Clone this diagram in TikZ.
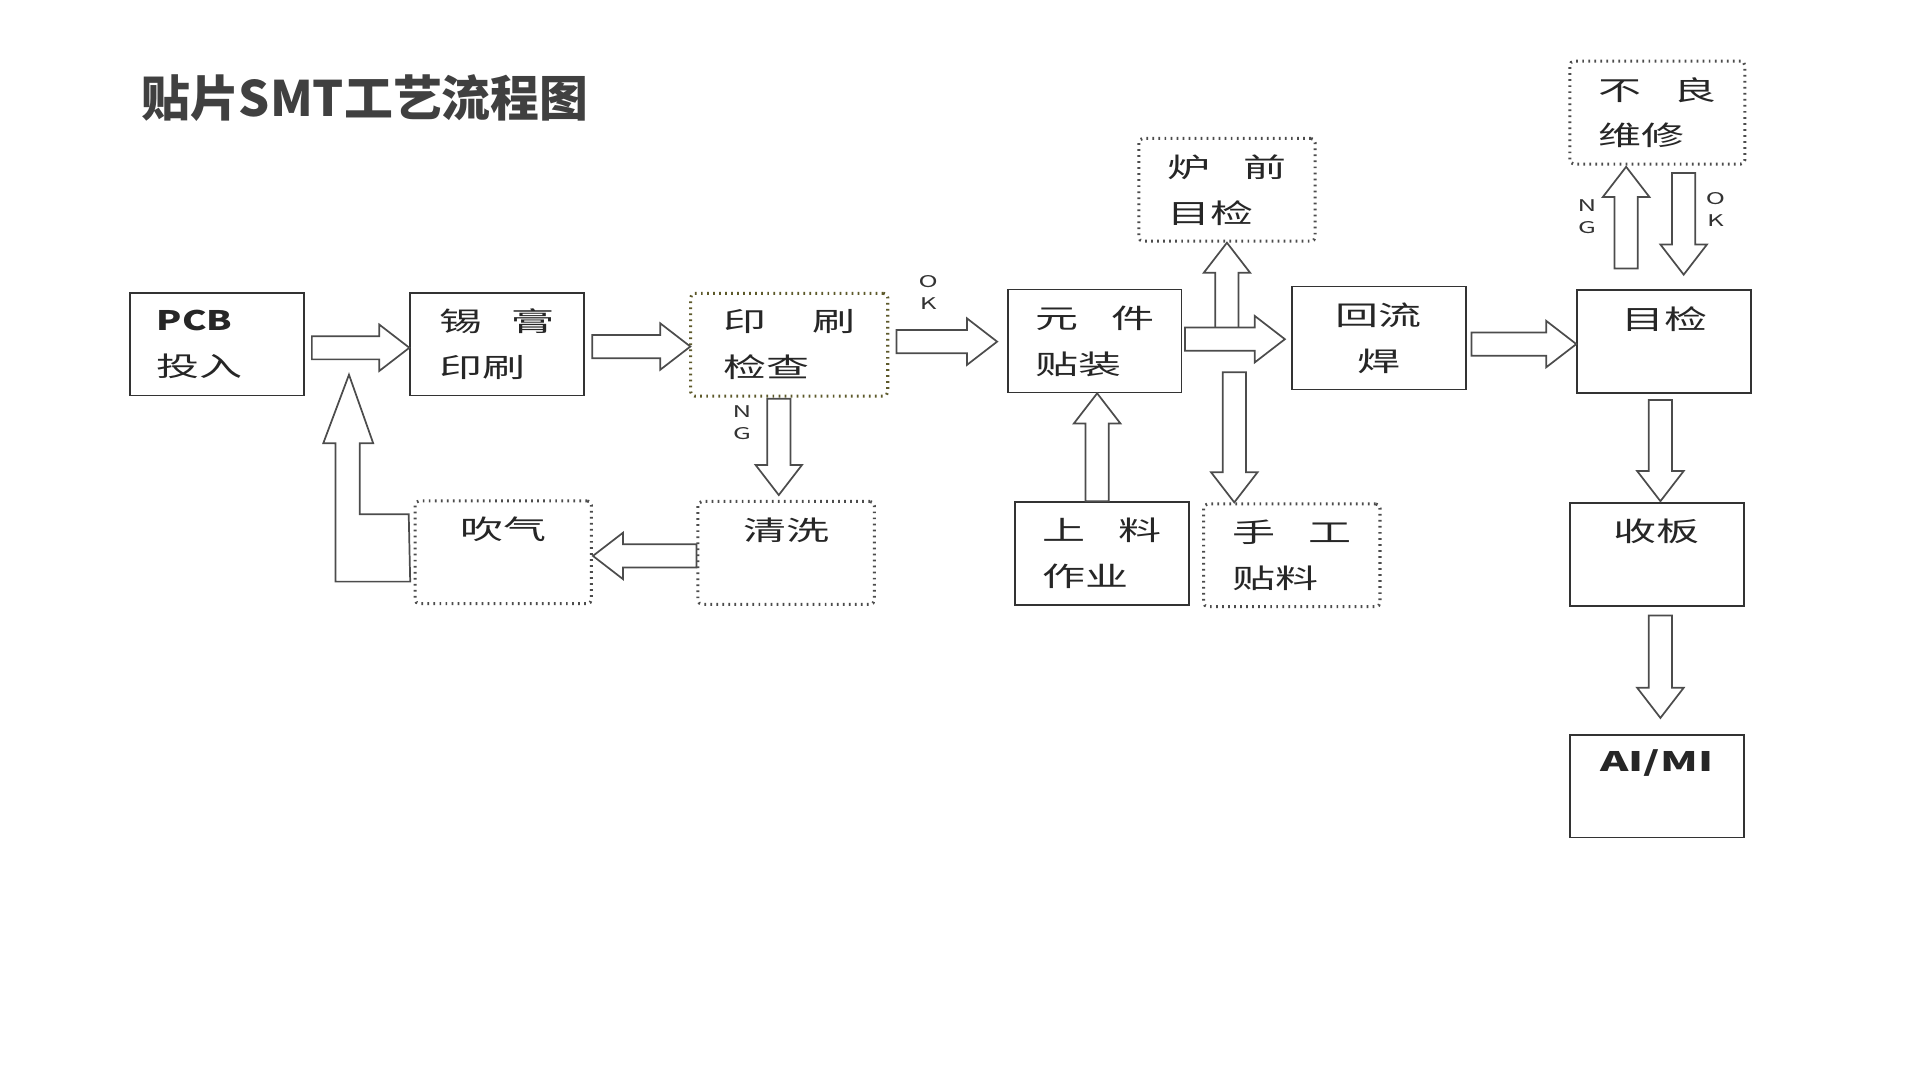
\documentclass[tikz,border=0pt]{standalone}
\usepackage{fontspec}
\usepackage{graphicx}
\setmainfont{Noto Sans CJK SC}
\usepackage{tikz}
\usetikzlibrary{calc}

\newcommand{\wide}[1]{\scalebox{1.6}[1]{#1}}
\newcommand{\oneline}[1]{\wide{#1}\\\phantom{\wide{#1}}}

\begin{document}
\begin{tikzpicture}[x=0.02cm, y=-0.02cm]
  % Styles
  \tikzset{
    box/.style={rectangle, draw=black!80, line width=0.8pt, fill=white, inner sep=0pt,
      minimum width=2.84cm, minimum height=1.68cm, align=left, text=black!85,
      font=\fontsize{12.5}{21.3}\selectfont},
    dotbox/.style={box, draw=black!70, dotted, line width=1.4pt, rounded corners=2pt, minimum width=2.88cm},
    tag/.style={align=center, inner sep=0pt, text=black!80, font=\fontsize{7.5}{10.2}\selectfont},
    blockline/.style={draw=black!70, line width=0.8pt, fill=white, line join=miter},
    hollow/.style={blockline, to path={
      let \p1=(\tikztostart), \p2=(\tikztotarget),
          \n1={atan2(\y2-\y1,\x2-\x1)}, \n2={veclen(\x2-\x1,\y2-\y1)} in
      {[shift={(\p1)}, rotate=\n1]
        (0pt,5.4pt) -- (\n2-14pt,5.4pt) -- (\n2-14pt,10.8pt) -- (\n2+0pt,0pt)
        -- (\n2-14pt,-10.8pt) -- (\n2-14pt,-5.4pt) -- (0pt,-5.4pt) -- cycle}}}
  }

  \useasboundingbox (0,0) rectangle (1568,882);

  % Title
  \node[anchor=west, inner sep=0pt, text=black!75, font=\fontsize{22.7}{26}\selectfont\bfseries] (title) at (115,80) {贴片SMT工艺流程图};

  % Main row
  \node[box] (pcb) at (177,281) {\scalebox{1.37}[1]{\textbf{PCB}}\\\wide{投入}\hspace*{0.55cm}};
  \node[box] (paste) at (406,281) {\wide{锡\hspace{0.3cm}膏}\\\wide{印刷}};
  \node[dotbox, draw=olive!55!black, minimum width=3.22cm] (check) at (644.5,281.5) {\wide{印\hspace{0.47cm}刷}\\\wide{检查}};
  \node[box] (mount) at (894,278.5) {\wide{元\hspace{0.34cm}件}\\\wide{贴装}};
  \node[box, align=center] (reflow) at (1126,276) {\wide{回流}\\\wide{焊}};
  \node[box] (visual) at (1359,279) {\oneline{目检}};

  % Side boxes
  \node[dotbox] (furnace) at (1002,155) {\wide{炉\hspace{0.33cm}前}\\\wide{目检}};
  \node[dotbox, minimum width=2.86cm] (repair) at (1353.5,92) {\wide{不\hspace{0.33cm}良}\\\wide{维修}};
  \node[dotbox] (blow) at (411,451) {\oneline{吹气}};
  \node[dotbox] (wash) at (642,451.5) {\oneline{清洗}};
  \node[box] (feed) at (900,452) {\wide{上\hspace{0.33cm}料}\\\wide{作业}};
  \node[dotbox] (manual) at (1055,453.5) {\wide{手\hspace{0.33cm}工}\\\wide{贴料}};
  \node[box] (collect) at (1353,453) {\oneline{收板}};
  \node[box] (aimi) at (1353,642) {\oneline{\textbf{AI/MI}}};

  % OK / NG tags
  \node[tag] (okcheck) at (758,239) {\wide{O}\\\wide{K}};
  \node[tag] (ngcheck) at (606,345) {\wide{N}\\\wide{G}};
  \node[tag] (ngvisual) at (1296,177) {\wide{N}\\\wide{G}};
  \node[tag] (okrepair) at (1401,171) {\wide{O}\\\wide{K}};

  % Free ends
  \coordinate (upfoot) at (1002,268);
  \coordinate (downfoot) at (1008,304);
  \coordinate (loopin) at (285,306);

  % Arrows - main row
  \draw[hollow] (upfoot) to (furnace.south);
  \draw[hollow] ($(pcb.east)+(6,3)$) to ($(paste.west)+(0,3)$);
  \draw[hollow] ($(paste.east)+(6,2)$) to ($(check.west)+(1,1.5)$);
  \draw[hollow] ($(check.east)+(6,-2.5)$) to ($(mount.west)+(-8,0.5)$);
  \draw[hollow] ($(mount.east)+(2,-1.5)$) to ($(reflow.west)+(-5,1)$);
  \draw[hollow] ($(reflow.east)+(4,5)$) to ($(visual.west)+(0,2)$);

  % Arrows - branches
  \draw[hollow] (downfoot) to ($(manual.north)+(-47,0)$);
  \draw[hollow] ($(feed.north)+(-4,0)$) to ($(mount.south)+(2,0)$);
  \draw[hollow] ($(check.south)+(-8.5,1)$) to ($(wash.north)+(-6,-4)$);
  \draw[hollow] ($(wash.west)+(0,2.5)$) to ($(blow.east)+(0,3)$);
  \draw[blockline] ($(blow.west)+(-4,-31)$) -- ++(-40,0) -- ++(0,-58) -- ++(11,0) -- (loopin)
    -- ++(-21,56) -- ++(10,0) -- ++(0,113) -- ++(61,0) -- cycle;

  % Arrows - right column
  \draw[hollow] ($(visual.north)+(-31,-17)$) to ($(repair.south)+(-25.5,1)$);
  \draw[hollow] ($(repair.south)+(21.5,6)$) to ($(visual.north)+(16,-12)$);
  \draw[hollow] ($(visual.south)+(-3,5)$) to ($(collect.north)+(3,-1)$);
  \draw[hollow] ($(collect.south)+(3,7)$) to ($(aimi.north)+(3,-13)$);

\end{tikzpicture}
\end{document}
